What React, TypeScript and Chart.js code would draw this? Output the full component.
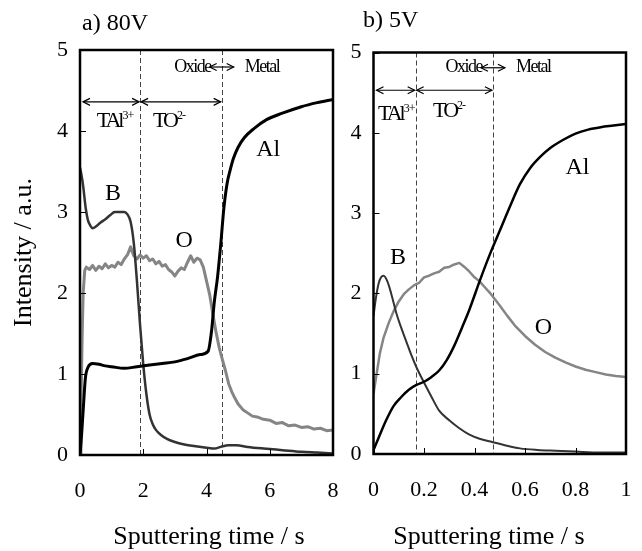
import React, { useEffect, useRef } from "react";
import { Chart, registerables } from "chart.js";

Chart.register(...registerables);

const SERIF = "'Liberation Serif', 'Times New Roman', serif";

// ---------- Panel a) 80 V ----------
const timeAl80 = [0, 0.05, 0.1, 0.17, 0.25, 0.4, 0.6, 0.8, 1.0, 1.4, 1.8, 2.2, 2.6, 3.0, 3.4, 3.8, 4.05, 4.15, 4.25, 4.35, 4.45, 4.55, 4.65, 4.75, 4.85, 5.0, 5.2, 5.5, 5.9, 6.4, 7.0, 7.5, 8.0];
const al80 = [0, 0.25, 0.55, 0.95, 1.08, 1.13, 1.12, 1.1, 1.09, 1.07, 1.09, 1.11, 1.13, 1.15, 1.19, 1.24, 1.28, 1.5, 1.9, 2.2, 2.6, 3.05, 3.35, 3.52, 3.66, 3.8, 3.92, 4.03, 4.14, 4.22, 4.3, 4.35, 4.39];

const timeB80 = [0, 0.05, 0.1, 0.18, 0.25, 0.33, 0.4, 0.5, 0.65, 0.8, 0.95, 1.1, 1.25, 1.4, 1.5, 1.6, 1.7, 1.8, 1.9, 2.0, 2.1, 2.2, 2.3, 2.4, 2.55, 2.75, 3.0, 3.3, 3.6, 4.0, 4.25, 4.45, 4.7, 4.95, 5.3, 5.8, 6.4, 7.0, 7.5, 8.0];
const b80 = [3.55, 3.45, 3.32, 3.05, 2.9, 2.83, 2.8, 2.82, 2.87, 2.91, 2.96, 3.0, 3.0, 3.0, 2.97, 2.88, 2.62, 2.15, 1.6, 1.12, 0.75, 0.5, 0.38, 0.31, 0.25, 0.2, 0.16, 0.13, 0.11, 0.09, 0.08, 0.1, 0.12, 0.12, 0.1, 0.08, 0.06, 0.04, 0.03, 0.02];

const timeO80 = [0, 0.03, 0.07, 0.1, 0.15, 0.2, 0.3, 0.4, 0.5, 0.6, 0.7, 0.8, 0.9, 1.0, 1.1, 1.2, 1.3, 1.4, 1.5, 1.6, 1.7, 1.8, 1.9, 2.0, 2.1, 2.2, 2.3, 2.4, 2.5, 2.6, 2.7, 2.8, 2.9, 3.0, 3.1, 3.2, 3.3, 3.4, 3.5, 3.6, 3.7, 3.8, 3.9, 4.0, 4.1, 4.2, 4.3, 4.4, 4.5, 4.6, 4.7, 4.8, 4.9, 5.0, 5.15, 5.3, 5.45, 5.6, 5.8, 6.0, 6.2, 6.4, 6.6, 6.8, 7.0, 7.2, 7.4, 7.6, 7.8, 8.0];
const o80 = [0, 0.6, 1.5, 2.0, 2.28, 2.32, 2.29, 2.34, 2.28, 2.33, 2.3, 2.36, 2.31, 2.34, 2.32, 2.38, 2.35, 2.42, 2.47, 2.57, 2.46, 2.42, 2.47, 2.43, 2.46, 2.4, 2.42, 2.36, 2.39, 2.33, 2.35, 2.29, 2.26, 2.21, 2.27, 2.31, 2.29, 2.38, 2.46, 2.38, 2.43, 2.41, 2.32, 2.15, 1.98, 1.74, 1.52, 1.33, 1.18, 1.04, 0.88, 0.78, 0.7, 0.63, 0.56, 0.52, 0.48, 0.47, 0.44, 0.43, 0.39, 0.4, 0.36, 0.37, 0.34, 0.35, 0.32, 0.33, 0.3, 0.31];

const bounds80 = [1.9, 4.48];

// ---------- Panel b) 5 V ----------
const timeAl5 = [0, 0.02, 0.05, 0.08, 0.11, 0.14, 0.17, 0.2, 0.23, 0.26, 0.29, 0.32, 0.35, 0.38, 0.42, 0.46, 0.5, 0.54, 0.58, 0.62, 0.66, 0.7, 0.75, 0.8, 0.85, 0.9, 0.95, 1.0];
const al5 = [0.05, 0.2, 0.42, 0.6, 0.71, 0.8, 0.86, 0.9, 0.96, 1.04, 1.17, 1.35, 1.57, 1.8, 2.15, 2.48, 2.78, 3.08, 3.36, 3.56, 3.7, 3.81, 3.91, 3.99, 4.04, 4.07, 4.09, 4.11];

const timeB5 = [0, 0.01, 0.02, 0.03, 0.04, 0.055, 0.07, 0.09, 0.11, 0.13, 0.15, 0.17, 0.2, 0.23, 0.26, 0.3, 0.34, 0.38, 0.42, 0.47, 0.52, 0.58, 0.65, 0.72, 0.8, 0.9, 1.0];
const b5 = [1.72, 1.95, 2.12, 2.2, 2.22, 2.15, 2.0, 1.76, 1.57, 1.4, 1.23, 1.08, 0.89, 0.71, 0.54, 0.42, 0.32, 0.24, 0.19, 0.15, 0.11, 0.07, 0.05, 0.04, 0.03, 0.02, 0.02];

const timeO5 = [0, 0.01, 0.025, 0.04, 0.06, 0.08, 0.1, 0.12, 0.14, 0.16, 0.18, 0.2, 0.22, 0.24, 0.26, 0.28, 0.3, 0.32, 0.34, 0.36, 0.38, 0.4, 0.42, 0.44, 0.46, 0.48, 0.5, 0.53, 0.56, 0.6, 0.64, 0.68, 0.72, 0.76, 0.8, 0.84, 0.88, 0.92, 0.96, 1.0];
const o5 = [0.75, 0.95, 1.25, 1.45, 1.63, 1.78, 1.9, 1.99, 2.05, 2.1, 2.13, 2.2, 2.22, 2.25, 2.27, 2.32, 2.33, 2.36, 2.38, 2.33, 2.27, 2.2, 2.15, 2.08, 2.01, 1.93, 1.85, 1.72, 1.6, 1.47, 1.36, 1.27, 1.2, 1.14, 1.09, 1.05, 1.02, 0.99, 0.97, 0.96];

const bounds5 = [0.167, 0.473];

const yTicks = [0, 1, 2, 3, 4, 5];
const X_TITLE = "Sputtering time / s";
const Y_TITLE = "Intensity / a.u.";

type Series = { t: number[]; v: number[]; color: string; width: number; smooth: boolean };
type ElemLabel = { text: string; t: number; v: number };
type PanelDef = {
  title: string;
  titlePx: [number, number];
  xTitlePx: [number, number];
  canvasLeft: number;
  canvasWidth: number;
  yAxisWidth: number;
  padTop: number;
  padRight: number;
  xAxisHeight: number;
  xMax: number;
  xStep: number;
  showYTitle: boolean;
  series: Series[];
  bounds: number[];
  arrowV: number;
  oxideV: number;
  talPos: [number, number];
  toPos: [number, number];
  labels: ElemLabel[];
};

const BLACK = "#000000";
const DARK = "#333333";
const GRAY = "#858585";

const panels: PanelDef[] = [
  {
    title: "a) 80V",
    titlePx: [82, 24],
    xTitlePx: [209, 537],
    canvasLeft: 0,
    canvasWidth: 345,
    yAxisWidth: 80,
    padTop: 50,
    padRight: 12,
    xAxisHeight: 96,
    xMax: 8,
    xStep: 2,
    showYTitle: true,
    series: [
      { t: timeAl80, v: al80, color: BLACK, width: 3, smooth: true },
      { t: timeB80, v: b80, color: DARK, width: 2.5, smooth: true },
      { t: timeO80, v: o80, color: GRAY, width: 3, smooth: false },
    ],
    bounds: bounds80,
    arrowV: 4.36,
    oxideV: 4.79,
    talPos: [0.53, 4.05],
    toPos: [2.31, 4.05],
    labels: [
      { text: "B", t: 1.04, v: 3.23 },
      { text: "O", t: 3.29, v: 2.65 },
      { text: "Al", t: 5.95, v: 3.77 },
    ],
  },
  {
    title: "b) 5V",
    titlePx: [33, 21],
    xTitlePx: [159, 537],
    canvasLeft: 330,
    canvasWidth: 312,
    yAxisWidth: 43.5,
    padTop: 52.5,
    padRight: 16,
    xAxisHeight: 97,
    xMax: 1,
    xStep: 0.2,
    showYTitle: false,
    series: [
      { t: timeAl5, v: al5, color: BLACK, width: 2.5, smooth: true },
      { t: timeB5, v: b5, color: DARK, width: 2, smooth: true },
      { t: timeO5, v: o5, color: GRAY, width: 2.5, smooth: false },
    ],
    bounds: bounds5,
    arrowV: 4.53,
    oxideV: 4.81,
    talPos: [0.018, 4.16],
    toPos: [0.236, 4.2],
    labels: [
      { text: "B", t: 0.097, v: 2.44 },
      { text: "O", t: 0.673, v: 1.57 },
      { text: "Al", t: 0.808, v: 3.56 },
    ],
  },
];

function head(ctx: CanvasRenderingContext2D, x: number, y: number, dir: number) {
  ctx.beginPath();
  ctx.moveTo(x - dir * 7, y - 3.5);
  ctx.lineTo(x, y);
  ctx.lineTo(x - dir * 7, y + 3.5);
  ctx.stroke();
}

function dblArrow(ctx: CanvasRenderingContext2D, x1: number, x2: number, y: number) {
  ctx.beginPath();
  ctx.moveTo(x1, y);
  ctx.lineTo(x2, y);
  ctx.stroke();
  head(ctx, x1, y, -1);
  head(ctx, x2, y, 1);
}

function supText(ctx: CanvasRenderingContext2D, x: number, y: number, main: string, sup: string) {
  ctx.font = `22px ${SERIF}`;
  (ctx as any).letterSpacing = "-3px";
  ctx.textAlign = "left";
  ctx.textBaseline = "alphabetic";
  ctx.fillText(main, x, y);
  const w = ctx.measureText(main).width;
  ctx.font = `12px ${SERIF}`;
  (ctx as any).letterSpacing = "-1px";
  ctx.fillText(sup, x + w + 1, y - 8);
}

function makeDeco(p: PanelDef) {
  return {
    id: "deco",
    beforeDatasetsDraw(chart: any) {
      const { ctx, chartArea: ca, scales } = chart;
      const xs = scales.x;
      ctx.save();
      ctx.strokeStyle = "#444";
      ctx.lineWidth = 1;
      ctx.setLineDash([5, 3]);
      for (const b of p.bounds) {
        const px = Math.round(xs.getPixelForValue(b)) + 0.5;
        ctx.beginPath();
        ctx.moveTo(px, ca.top);
        ctx.lineTo(px, ca.bottom);
        ctx.stroke();
      }
      ctx.restore();
    },
    afterDatasetsDraw(chart: any) {
      const { ctx, chartArea: ca, scales } = chart;
      const xs = scales.x;
      const ys = scales.y;
      ctx.save();
      // inward ticks
      ctx.strokeStyle = BLACK;
      ctx.lineWidth = 1;
      for (const tk of ys.ticks) {
        const py = Math.round(ys.getPixelForValue(tk.value)) + 0.5;
        ctx.beginPath();
        ctx.moveTo(ca.left, py);
        ctx.lineTo(ca.left + 6, py);
        ctx.stroke();
      }
      for (const tk of xs.ticks) {
        const px = Math.round(xs.getPixelForValue(tk.value)) + 0.5;
        ctx.beginPath();
        ctx.moveTo(px, ca.bottom);
        ctx.lineTo(px, ca.bottom - 6);
        ctx.stroke();
      }
      // frame
      ctx.lineWidth = 2.5;
      ctx.strokeRect(ca.left, ca.top, ca.right - ca.left, ca.bottom - ca.top);

      // region arrows
      ctx.lineWidth = 1.2;
      const ay = ys.getPixelForValue(p.arrowV);
      const b0 = xs.getPixelForValue(p.bounds[0]);
      const b1 = xs.getPixelForValue(p.bounds[1]);
      dblArrow(ctx, ca.left + 3, b0 - 1, ay);
      dblArrow(ctx, b0 + 1, b1 - 1, ay);

      // Oxide <-> Metal
      const oy = ys.getPixelForValue(p.oxideV);
      dblArrow(ctx, b1 - 12, b1 + 12, oy);
      ctx.fillStyle = BLACK;
      ctx.font = `18px ${SERIF}`;
      (ctx as any).letterSpacing = "-1.5px";
      ctx.textBaseline = "middle";
      ctx.textAlign = "right";
      ctx.fillText("Oxide", b1 - 11, oy);
      ctx.textAlign = "left";
      ctx.fillText("Metal", b1 + 23, oy);

      // TAl3+ and TO2-
      supText(ctx, xs.getPixelForValue(p.talPos[0]), ys.getPixelForValue(p.talPos[1]), "TAl", "3+");
      supText(ctx, xs.getPixelForValue(p.toPos[0]), ys.getPixelForValue(p.toPos[1]), "TO", "2-");

      // element labels
      (ctx as any).letterSpacing = "0px";
      ctx.font = `24px ${SERIF}`;
      ctx.textAlign = "center";
      ctx.textBaseline = "middle";
      for (const l of p.labels) {
        ctx.fillText(l.text, xs.getPixelForValue(l.t), ys.getPixelForValue(l.v));
      }

      // x axis title
      ctx.font = `26px ${SERIF}`;
      ctx.fillText(X_TITLE, p.xTitlePx[0], p.xTitlePx[1]);

      // panel title
      ctx.font = `24px ${SERIF}`;
      ctx.textAlign = "left";
      ctx.fillText(p.title, p.titlePx[0], p.titlePx[1]);
      ctx.restore();
    },
  };
}

function Panel({ p }: { p: PanelDef }) {
  const ref = useRef<HTMLCanvasElement | null>(null);
  useEffect(() => {
    if (!ref.current) return;
    const chart = new Chart(ref.current, {
      type: "scatter",
      data: {
        datasets: p.series.map((s) => ({
          data: s.t.map((x, i) => ({ x, y: s.v[i] })),
          showLine: true,
          borderColor: s.color,
          backgroundColor: s.color,
          borderWidth: s.width,
          pointRadius: 0,
          tension: 0,
          cubicInterpolationMode: s.smooth ? ("monotone" as const) : ("default" as const),
          borderJoinStyle: "round" as const,
        })),
      },
      options: {
        responsive: false,
        animation: false,
        events: [],
        layout: { autoPadding: false, padding: { top: p.padTop, right: p.padRight, left: 0, bottom: 0 } },
        plugins: { legend: { display: false }, tooltip: { enabled: false } },
        scales: {
          x: {
            type: "linear",
            min: 0,
            max: p.xMax,
            grid: { display: false, drawTicks: false },
            border: { display: false },
            ticks: {
              stepSize: p.xStep,
              padding: 23,
              color: BLACK,
              font: { family: SERIF, size: 22 },
              maxRotation: 0,
              callback: (v: any) => String(Number(Number(v).toFixed(2))),
            },
            title: { display: false },
            afterFit: (s: any) => {
              s.height = p.xAxisHeight;
              s.paddingLeft = 0;
              s.paddingRight = 0;
            },
          },
          y: {
            type: "linear",
            min: yTicks[0],
            max: yTicks[yTicks.length - 1],
            grid: { display: false, drawTicks: false },
            border: { display: false },
            ticks: {
              stepSize: 1,
              padding: 12,
              color: BLACK,
              font: { family: SERIF, size: 22 },
            },
            title: {
              display: p.showYTitle,
              text: Y_TITLE,
              color: BLACK,
              font: { family: SERIF, size: 26 },
              padding: { top: 9, bottom: 0 },
            },
            afterFit: (s: any) => {
              s.width = p.yAxisWidth;
              s.paddingTop = 0;
              s.paddingBottom = 0;
            },
          },
        },
      },
      plugins: [makeDeco(p)],
    });
    return () => chart.destroy();
  }, [p]);
  return (
    <canvas
      ref={ref}
      width={p.canvasWidth}
      height={551}
      style={{ position: "absolute", left: p.canvasLeft, top: 0, width: p.canvasWidth, height: 551 }}
    />
  );
}

export default function App() {
  return (
    <div style={{ position: "absolute", left: 0, top: 0, width: 642, height: 551, background: "#fff", overflow: "hidden" }}>
      {panels.map((p) => (
        <Panel key={p.title} p={p} />
      ))}
    </div>
  );
}
